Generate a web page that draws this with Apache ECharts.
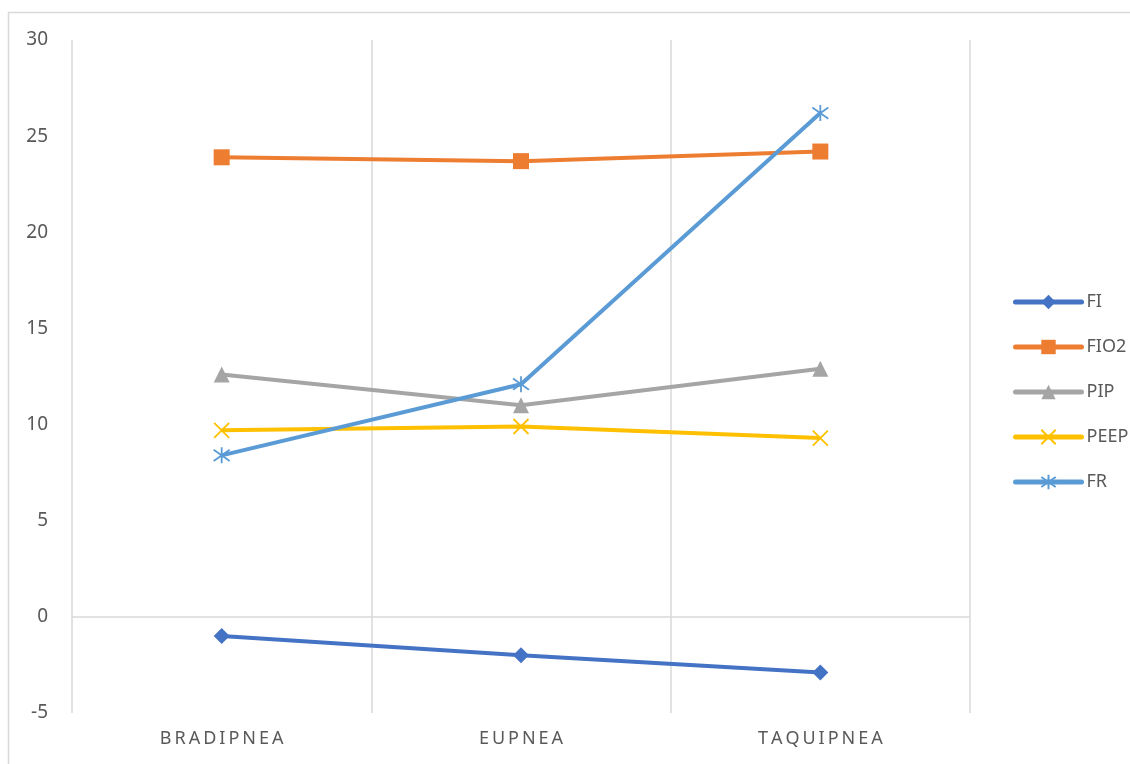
<!DOCTYPE html>
<html>
<head>
<meta charset="utf-8">
<script src="https://cdn.jsdelivr.net/npm/echarts@6/dist/echarts.min.js"></script>
<style>
  html, body { margin: 0; padding: 0; background: #fff; }
  #chart { width: 1130px; height: 764px; }
</style>
</head>
<body>
<div id="chart"></div>
<script>
// Respiratory pattern categories
const categories = ['BRADIPNEA', 'EUPNEA', 'TAQUIPNEA'];

// Series values per category
const fiValues   = [-1.0, -2.0, -2.9];
const fio2Values = [23.9, 23.7, 24.2];
const pipValues  = [12.6, 11.0, 12.9];
const peepValues = [9.7, 9.9, 9.3];
const frValues   = [8.4, 12.1, 26.2];

// Value axis range
const yMin = -5;
const yMax = 30;
const yStep = 5;

const textColor = '#595959';
const gridColor = '#d9d9d9';
const fontFamily = '"Noto Sans", "Open Sans", sans-serif';

// Spread out category letters (thin spaces between characters)
function spaced(s) {
  return s.split('').join('\u2009');
}

const chart = echarts.init(document.getElementById('chart'), null, { renderer: 'canvas' });

function lineSeries(name, data, color, symbol, size, extra) {
  return Object.assign({
    name: name,
    type: 'line',
    data: data,
    symbol: symbol,
    symbolSize: size,
    showAllSymbol: true,
    lineStyle: { color: color, width: 4 },
    itemStyle: { color: color },
    emphasis: { disabled: true },
    animation: false
  }, extra || {});
}

const crossStyle = (color) => ({ color: 'rgba(0,0,0,0)', borderColor: color, borderWidth: 1.8 });

chart.setOption({
  backgroundColor: '#ffffff',
  animation: false,
  textStyle: { fontFamily: fontFamily },
  graphic: [{
    type: 'rect',
    shape: { x: 8.5, y: 12.5, width: 1300, height: 900 },
    style: { fill: 'none', stroke: gridColor, lineWidth: 1.5 },
    silent: true,
    z: -10
  }],
  grid: { left: 72, right: 160, top: 40, bottom: 51, containLabel: false },
  legend: {
    orient: 'vertical',
    left: 1008,
    top: 288,
    itemWidth: 66,
    itemHeight: 18,
    itemGap: 27,
    lineStyle: { width: 5, cap: 'round' },
    textStyle: { color: textColor, fontSize: 18, fontFamily: fontFamily },
    data: ['FI', 'FIO2', 'PIP', 'PEEP', 'FR']
  },
  xAxis: {
    type: 'category',
    data: categories,
    boundaryGap: true,
    axisLine: { show: false, onZero: false },
    axisTick: { show: false },
    axisLabel: {
      color: textColor,
      fontSize: 18,
      fontFamily: fontFamily,
      margin: 17,
      formatter: spaced
    },
    splitLine: { show: true, lineStyle: { color: gridColor, width: 1.5 } }
  },
  yAxis: {
    type: 'value',
    min: yMin,
    max: yMax,
    interval: yStep,
    axisLine: { show: false },
    axisTick: { show: false },
    splitLine: { show: false },
    axisLabel: { color: textColor, fontSize: 19, fontFamily: fontFamily, margin: 24 }
  },
  series: [
    lineSeries('FI', fiValues, '#4472C4', 'diamond', 16, {
      markLine: {
        silent: true,
        symbol: 'none',
        label: { show: false },
        lineStyle: { color: gridColor, type: 'solid', width: 1.5 },
        emphasis: { disabled: true },
        data: [{ yAxis: 0 }],
        z: 0
      }
    }),
    lineSeries('FIO2', fio2Values, '#ED7D31', 'rect', 16),
    lineSeries('PIP', pipValues, '#A5A5A5', 'triangle', 16),
    lineSeries('PEEP', peepValues, '#FFC000', 'path://M0,0L10,10M10,0L0,10', 15, {
      itemStyle: crossStyle('#FFC000')
    }),
    lineSeries('FR', frValues, '#5B9BD5', 'path://M5,0L5,10M0,1.5L10,8.5M10,1.5L0,8.5', 16, {
      itemStyle: crossStyle('#5B9BD5')
    })
  ]
});
</script>
</body>
</html>
